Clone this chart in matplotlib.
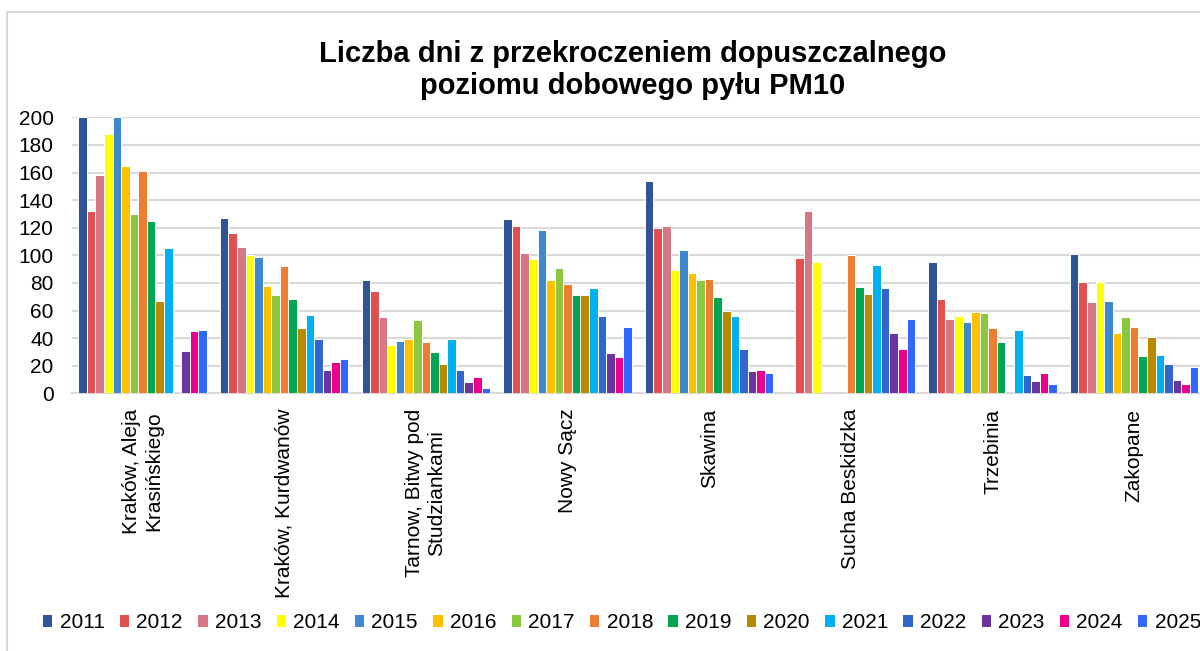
import numpy as np
import matplotlib
matplotlib.use('Agg')
import matplotlib.pyplot as plt
from matplotlib.patches import Patch
from matplotlib.lines import Line2D

plt.rcParams['font.family'] = ['Liberation Sans', 'DejaVu Sans']

# stations (category axis)
stations = ['Kraków, Aleja\nKrasińskiego', 'Kraków, Kurdwanów',
            'Tarnow, Bitwy pod\nStudziankami', 'Nowy Sącz', 'Skawina',
            'Sucha Beskidzka', 'Trzebinia', 'Zakopane']
years = ['2011', '2012', '2013', '2014', '2015', '2016', '2017', '2018',
         '2019', '2020', '2021', '2022', '2023', '2024', '2025']
colors = ['#2F5597', '#E05050', '#D57785', '#FFFF00', '#3E88CF', '#FFC000',
          '#8DC63F', '#ED7D31', '#00A651', '#B88A00', '#00B0F0', '#3366CC',
          '#6A359C', '#EC008C', '#3366FF']

# days over limit, one list per station, None = no data
krakow_krasinskiego = [200, 132, 158, 188, 200, 165, 130, 161, 125, 67, 105, None, 31, 45, 46]
krakow_kurdwanow = [127, 116, 106, 100, 99, 78, 71, 92, 68, 47, 57, 39, 17, 23, 25]
tarnow = [82, 74, 55, 35, 38, 39, 53, 37, 30, 21, 39, 17, 8, 12, 4]
nowy_sacz = [126, 121, 102, 97, 118, 82, 91, 79, 71, 71, 76, 56, 29, 26, 48]
skawina = [154, 120, 121, 89, 104, 87, 82, 83, 70, 60, 56, 32, 16, 17, 15]
sucha = [None, 98, 132, 95, None, None, None, 100, 77, 72, 93, 76, 44, 32, 54]
trzebinia = [95, 68, 54, 56, 52, 59, 58, 47, 37, None, 46, 13, 9, 15, 7]
zakopane = [101, 81, 66, 81, 67, 44, 55, 48, 27, 41, 28, 21, 10, 7, 19]

data = np.array([krakow_krasinskiego, krakow_kurdwanow, tarnow, nowy_sacz,
                 skawina, sucha, trzebinia, zakopane], dtype=float)

W, H = 1200, 651
fig = plt.figure(figsize=(W / 100, H / 100), dpi=100)
fig.patch.set_facecolor('white')

# chart border (right/bottom are outside the crop)
fig.add_artist(Line2D([7 / W, 7 / W], [-0.1, 1 - 12 / H], color='#d9d9d9', lw=1.5))
fig.add_artist(Line2D([7 / W, 1.1], [1 - 12 / H, 1 - 12 / H], color='#d9d9d9', lw=1.5))

left, right, top, bottom = 71.7, 1205, 117.3, 393.3
ax = fig.add_axes([left / W, 1 - bottom / H, (right - left) / W, (bottom - top) / H])

x = np.arange(len(stations))
n = len(years)
w = 8.57 / ((right - left) / len(stations))
for i, yr in enumerate(years):
    vals = data[:, i]
    mask = ~np.isnan(vals)
    ax.bar(x[mask] + (i - (n - 1) / 2) * w, vals[mask], width=w,
           color=colors[i], edgecolor='white', linewidth=0.7, zorder=3)

ax.set_xlim(-0.5, len(stations) - 0.5)
ax.set_ylim(0, 200)
ax.set_yticks(range(0, 201, 20))
ax.yaxis.grid(True, color='#d9d9d9', linewidth=1.5)
ax.set_axisbelow(True)
for s in ['left', 'right', 'top']:
    ax.spines[s].set_visible(False)
ax.spines['bottom'].set_color('#d9d9d9')
ax.spines['bottom'].set_linewidth(1.5)
ax.tick_params(axis='y', length=0, labelsize=15, pad=13)
ax.tick_params(axis='x', length=0, pad=11)
ax.set_xticks(x)
ax.set_xticklabels(stations, rotation=90, fontsize=15, ha='center', va='top',
                   multialignment='center')

fig.text(633 / W, 1 - 70 / H,
         'Liczba dni z przekroczeniem dopuszczalnego\npoziomu dobowego pyłu PM10',
         ha='center', va='center', fontsize=21, fontweight='bold', linespacing=1.2)

handles = [Patch(facecolor=c, edgecolor='none') for c in colors]
fig.legend(handles, years, loc='center', bbox_to_anchor=(622 / W, 1 - 623 / H),
           ncol=n, frameon=False, fontsize=15, handlelength=0.45, handleheight=0.45,
           handletextpad=0.34, columnspacing=0.74, borderpad=0, borderaxespad=0)

fig.savefig('out.png', dpi=100)
